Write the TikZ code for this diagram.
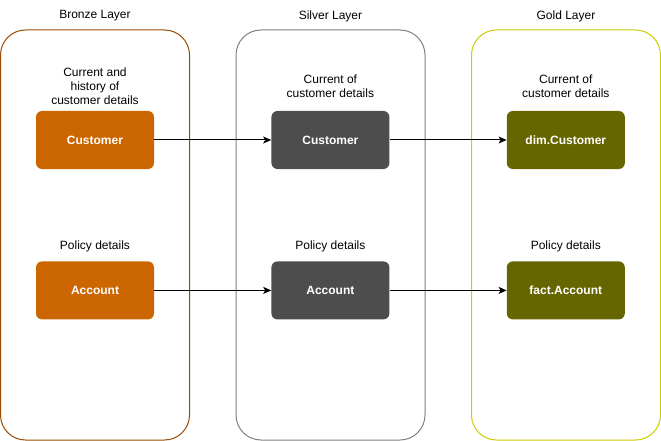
\documentclass[tikz,border=0pt]{standalone}
\usepackage{fontspec}
\setmainfont{Liberation Sans}
\usepackage{xcolor}
\usepackage{tikz}
\usetikzlibrary{arrows.meta,positioning}
\definecolor{bronzeline}{HTML}{994C00}
\definecolor{silverline}{HTML}{808080}
\definecolor{goldline}{HTML}{CCCC00}
\definecolor{bronzefill}{HTML}{CC6600}
\definecolor{silverfill}{HTML}{4D4D4D}
\definecolor{goldfill}{HTML}{666600}

\begin{document}
\begin{tikzpicture}[x=1pt,y=-1pt,>={Stealth[length=8pt,width=7pt,inset=2pt]},
  layer/.style={draw,line width=1pt,rounded corners=25pt,minimum width=189pt,minimum height=410pt},
  table/.style={rounded corners=6pt,minimum width=118pt,minimum height=58pt,text=white,font=\fontsize{12}{14}\selectfont\bfseries},
  note/.style={align=center,inner sep=1pt,font=\fontsize{12}{14}\selectfont},
  flow/.style={->,line width=1pt}]
\useasboundingbox (0,0) rectangle (661,441);
% Layers
\node[layer,draw=bronzeline] (bronze) at (95,235) {};
\node[layer,draw=silverline] (silver) at (330.5,235) {};
\node[layer,draw=goldline] (gold) at (566,235) {};
\node[note] (bronzetitle) at (95,16) {Bronze Layer};
\node[note] (silvertitle) at (330.5,16) {Silver Layer};
\node[note] (goldtitle) at (566,16) {Gold Layer};
% Customer row
\node[table,fill=bronzefill] (bcust) at (95,140) {Customer};
\node[table,fill=silverfill,right=117pt of bcust] (scust) {Customer};
\node[table,fill=goldfill,right=117pt of scust] (gcust) {dim.Customer};
\node[note,above=5pt of bcust] (bcustnote) {Current and\\history of\\customer details};
\node[note,above=12pt of scust] (scustnote) {Current of\\customer details};
\node[note,above=12pt of gcust] (gcustnote) {Current of\\customer details};
% Account row
\node[table,fill=bronzefill,below=92pt of bcust] (bacc) {Account};
\node[table,fill=silverfill,right=117pt of bacc] (sacc) {Account};
\node[table,fill=goldfill,right=117pt of sacc] (gacc) {fact.Account};
\node[note,above=8pt of bacc] (baccnote) {Policy details};
\node[note,above=8pt of sacc] (saccnote) {Policy details};
\node[note,above=8pt of gacc] (gaccnote) {Policy details};
% Flows
\draw[flow] (bcust) -- (scust);
\draw[flow] (scust) -- (gcust);
\draw[flow] (bacc) -- (sacc);
\draw[flow] (sacc) -- (gacc);
\end{tikzpicture}
\end{document}
